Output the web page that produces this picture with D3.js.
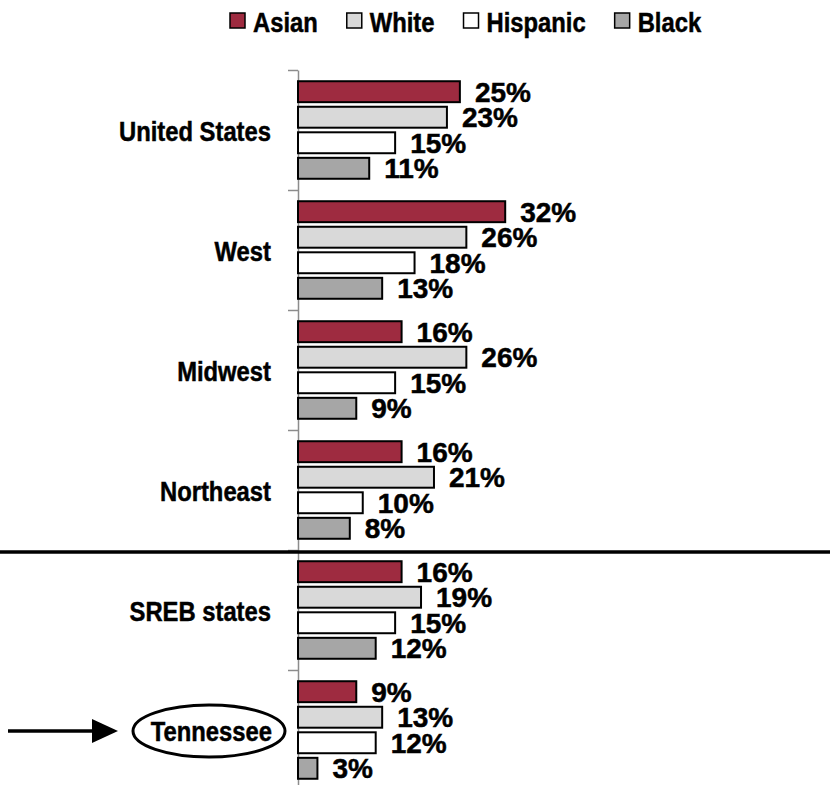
<!DOCTYPE html>
<html>
<head>
<meta charset="utf-8">
<script src="https://cdn.jsdelivr.net/npm/d3@7"></script>
<style>
  body { margin: 0; background: #fff; }
  text { font-family: "Liberation Sans", Arial, sans-serif; font-weight: bold; fill: #000;
         stroke: #000; stroke-width: 0.5; }
</style>
</head>
<body>
<div id="chart"></div>
<script>
const regions = ["United States", "West", "Midwest", "Northeast", "SREB states", "Tennessee"];
const seriesNames = ["Asian", "White", "Hispanic", "Black"];
const asian = [25, 32, 16, 16, 16, 9];
const white = [23, 26, 26, 21, 19, 13];
const hispanic = [15, 18, 15, 10, 15, 12];
const black = [11, 13, 9, 8, 12, 3];
const seriesColors = ["#9e2b40", "#d9d9d9", "#ffffff", "#a6a6a6"];

const seriesValues = [asian, white, hispanic, black];
const width = 830, height = 785;
const squish = 0.85; // labels in the original are a narrow bold face

const svg = d3.select("#chart")
              .append("svg")
              .attr("width", width)
              .attr("height", height);

const x = d3.scaleLinear().domain([0, 40]).range([298, 557]);
const y = d3.scaleBand().domain(regions).range([70, 790]).padding(0);
const ySeries = d3.scaleBand().domain(seriesNames).range([0, y.bandwidth()])
                  .paddingInner(0.18).paddingOuter(0.44);
const color = d3.scaleOrdinal().domain(seriesNames).range(seriesColors);

// axis: ticks sit on the group boundaries
const tickScale = d3.scaleLinear().domain([0, regions.length]).range([70, 790]);
const axis = d3.axisLeft(tickScale)
               .tickValues(d3.range(regions.length + 1))
               .tickFormat("")
               .tickSize(10)
               .tickSizeOuter(0);
const axisG = svg.append("g")
                 .attr("transform", "translate(298,0)")
                 .call(axis);
axisG.selectAll("path, line").attr("stroke", "#8c8c8c").attr("stroke-width", 1.5);

// bars
const groups = svg.selectAll(".group")
                  .data(regions)
                  .enter()
                  .append("g")
                  .attr("class", "group")
                  .attr("transform", d => `translate(0,${y(d)})`);

groups.selectAll("rect")
      .data((d, i) => seriesNames.map((s, j) => ({ series: s, value: seriesValues[j][i] })))
      .enter()
      .append("rect")
      .attr("x", x(0))
      .attr("y", d => ySeries(d.series))
      .attr("width", d => x(d.value) - x(0))
      .attr("height", ySeries.bandwidth())
      .attr("fill", d => color(d.series))
      .attr("stroke", "#000")
      .attr("stroke-width", 2);

groups.selectAll(".val")
      .data((d, i) => seriesNames.map((s, j) => ({ series: s, value: seriesValues[j][i] })))
      .enter()
      .append("text")
      .attr("class", "val")
      .attr("x", d => x(d.value) + 15)
      .attr("y", d => ySeries(d.series) + ySeries.bandwidth() / 2 + 10)
      .attr("font-size", 28)
      .text(d => d.value + "%");

// category labels
svg.selectAll(".cat")
   .data(regions)
   .enter()
   .append("g")
   .attr("class", "cat")
   .attr("transform", d => {
       const cx = d === "Tennessee" ? 272 : 271;
       return `translate(${cx},${y(d) + y.bandwidth() / 2 + 11}) scale(${squish},1)`;
   })
   .append("text")
   .attr("text-anchor", "end")
   .attr("font-size", 28)
   .text(d => d);

// separator line between regions and states
svg.append("line")
   .attr("x1", 0).attr("x2", width)
   .attr("y1", y("SREB states") + 2).attr("y2", y("SREB states") + 2)
   .attr("stroke", "#000")
   .attr("stroke-width", 3.5);

// Tennessee highlight
const tnY = y("Tennessee") + y.bandwidth() / 2 + 1;
svg.append("ellipse")
   .attr("cx", 209).attr("cy", tnY)
   .attr("rx", 76).attr("ry", 26)
   .attr("fill", "none")
   .attr("stroke", "#000")
   .attr("stroke-width", 3);

svg.append("line")
   .attr("x1", 8).attr("x2", 96)
   .attr("y1", tnY).attr("y2", tnY)
   .attr("stroke", "#000")
   .attr("stroke-width", 3.5);
svg.append("path")
   .attr("d", `M92,${tnY - 12} L118,${tnY} L92,${tnY + 12} Z`)
   .attr("fill", "#000");

// legend
const legend = svg.append("g").attr("class", "legend");
let lx = 230;
seriesNames.forEach(s => {
    legend.append("rect")
          .attr("x", lx).attr("y", 13)
          .attr("width", 15).attr("height", 15)
          .attr("fill", color(s))
          .attr("stroke", "#000")
          .attr("stroke-width", 1.5);
    const t = legend.append("g")
                    .attr("transform", `translate(${lx + 23},32) scale(${squish},1)`)
                    .append("text")
                    .attr("font-size", 28)
                    .text(s);
    lx += 23 + t.node().getComputedTextLength() * squish + 29;
});
</script>
</body>
</html>
